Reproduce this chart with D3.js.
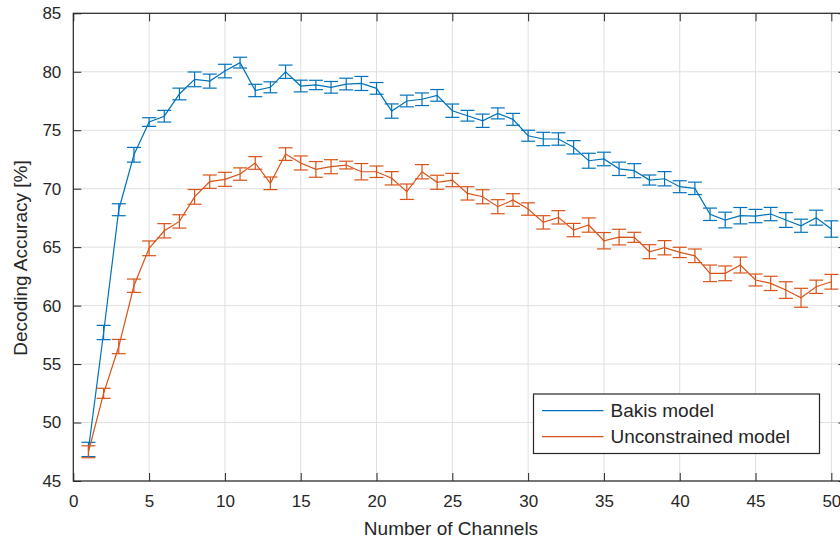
<!DOCTYPE html>
<html>
<head>
<meta charset="utf-8">
<script src="https://cdn.jsdelivr.net/npm/d3@7"></script>
<style>
    body { margin: 0; background: #fff; }
    svg { display: block; font-family: "Liberation Sans", Arial, sans-serif; }
</style>
</head>
<body>
<svg width="840" height="541"></svg>
<script>
var channels = [1, 2, 3, 4, 5, 6, 7, 8, 9, 10, 11, 12, 13, 14, 15, 16, 17, 18, 19, 20,
    21, 22, 23, 24, 25, 26, 27, 28, 29, 30, 31, 32, 33, 34, 35, 36, 37, 38, 39, 40,
    41, 42, 43, 44, 45, 46, 47, 48, 49, 50];

var bakisMean = [47.7, 57.7, 68.2, 72.9, 75.7, 76.2, 78.1, 79.35, 79.2, 80.06,
    80.78, 78.4, 78.67, 80.0, 78.78, 78.87, 78.67, 78.95, 79.0, 78.58,
    76.64, 77.5, 77.65, 77.98, 76.67, 76.24, 75.81, 76.44, 75.93, 74.53,
    74.25, 74.25, 73.54, 72.39, 72.54, 71.7, 71.54, 70.74, 70.85, 70.17,
    70.03, 67.81, 67.32, 67.69, 67.66, 67.83, 67.32, 66.83, 67.52, 66.55];

var bakisErr = [0.61, 0.61, 0.51, 0.63, 0.37, 0.5, 0.5, 0.63, 0.6, 0.58,
    0.46, 0.53, 0.47, 0.57, 0.5, 0.4, 0.5, 0.5, 0.6, 0.5,
    0.61, 0.5, 0.54, 0.5, 0.57, 0.46, 0.57, 0.47, 0.51, 0.47,
    0.57, 0.53, 0.57, 0.64, 0.58, 0.57, 0.6, 0.43, 0.61, 0.51,
    0.53, 0.53, 0.67, 0.7, 0.57, 0.57, 0.63, 0.56, 0.64, 0.7];

var unconstrainedMean = [47.5, 52.5, 56.5, 61.7, 64.9, 66.4, 67.2, 69.3, 70.6, 70.8,
    71.25, 72.2, 70.46, 72.96, 72.2, 71.65, 71.88, 72.02, 71.45, 71.45,
    70.89, 69.74, 71.45, 70.55, 70.74, 69.6, 69.31, 68.46, 69.03, 68.26,
    67.12, 67.55, 66.46, 66.89, 65.55, 65.86, 65.84, 64.61, 64.95, 64.55,
    64.26, 62.76, 62.76, 63.47, 62.19, 61.9, 61.33, 60.67, 61.61, 62.04];

var unconstrainedErr = [0.51, 0.43, 0.61, 0.57, 0.63, 0.61, 0.57, 0.63, 0.57, 0.6,
    0.53, 0.54, 0.54, 0.54, 0.6, 0.67, 0.6, 0.33, 0.7, 0.49,
    0.57, 0.66, 0.61, 0.6, 0.57, 0.57, 0.6, 0.6, 0.54, 0.53,
    0.57, 0.57, 0.57, 0.61, 0.7, 0.67, 0.43, 0.6, 0.61, 0.44,
    0.58, 0.71, 0.63, 0.68, 0.51, 0.61, 0.71, 0.81, 0.57, 0.63];

var xTicks = [0, 5, 10, 15, 20, 25, 30, 35, 40, 45, 50];
var yTicks = [45, 50, 55, 60, 65, 70, 75, 80, 85];

var seriesNames = ["Bakis model", "Unconstrained model"];
var seriesColors = ["#0072bd", "#d95319"];

var axisColor = "#262626";
var gridColor = "#e0e0e0";

// Plot box (MATLAB axes, right edge runs past the cropped figure)
var plotLeft = 73.3, plotRight = 846.5, plotTop = 13.3, plotBottom = 481;

var xScale = d3.scaleLinear().domain([0, 51]).range([plotLeft, plotRight]);
var yScale = d3.scaleLinear().domain([45, 85]).range([plotBottom, plotTop]);

var svg = d3.select("svg");

// Grid
svg.append("g")
    .selectAll("line")
    .data(xTicks)
    .join("line")
    .attr("x1", d => xScale(d))
    .attr("x2", d => xScale(d))
    .attr("y1", plotTop)
    .attr("y2", plotBottom)
    .attr("stroke", gridColor)
    .attr("stroke-width", 1);

svg.append("g")
    .selectAll("line")
    .data(yTicks)
    .join("line")
    .attr("x1", plotLeft)
    .attr("x2", plotRight)
    .attr("y1", d => yScale(d))
    .attr("y2", d => yScale(d))
    .attr("stroke", gridColor)
    .attr("stroke-width", 1);

// Series with error bars
var series = [
    { name: seriesNames[0], color: seriesColors[0], mean: bakisMean, err: bakisErr },
    { name: seriesNames[1], color: seriesColors[1], mean: unconstrainedMean, err: unconstrainedErr },
];

var capHalf = 7;

series.forEach(function (s) {
    var pts = channels.map((c, i) => ({ x: c, y: s.mean[i], e: s.err[i] }));
    var g = svg.append("g")
        .attr("stroke", s.color)
        .attr("stroke-width", 1.2)
        .attr("fill", "none");

    g.append("path")
        .attr("d", d3.line().x(d => xScale(d.x)).y(d => yScale(d.y))(pts));

    var bars = g.selectAll("g.bar")
        .data(pts)
        .join("g")
        .attr("class", "bar");

    bars.append("line")
        .attr("x1", d => xScale(d.x))
        .attr("x2", d => xScale(d.x))
        .attr("y1", d => yScale(d.y - d.e))
        .attr("y2", d => yScale(d.y + d.e));

    bars.append("line")
        .attr("x1", d => xScale(d.x) - capHalf)
        .attr("x2", d => xScale(d.x) + capHalf)
        .attr("y1", d => yScale(d.y + d.e))
        .attr("y2", d => yScale(d.y + d.e));

    bars.append("line")
        .attr("x1", d => xScale(d.x) - capHalf)
        .attr("x2", d => xScale(d.x) + capHalf)
        .attr("y1", d => yScale(d.y - d.e))
        .attr("y2", d => yScale(d.y - d.e));
});

// Axes (box on, ticks inward)
var tickLen = 8;

svg.append("g")
    .attr("transform", "translate(0," + plotBottom + ")")
    .call(d3.axisBottom(xScale).tickValues(xTicks).tickSizeInner(-tickLen).tickSizeOuter(0).tickPadding(14))
    .call(g => g.select(".domain").remove());

svg.append("g")
    .attr("transform", "translate(0," + plotTop + ")")
    .call(d3.axisTop(xScale).tickValues(xTicks).tickSizeInner(-tickLen).tickSizeOuter(0).tickFormat(""))
    .call(g => g.select(".domain").remove());

svg.append("g")
    .attr("transform", "translate(" + plotLeft + ",0)")
    .call(d3.axisLeft(yScale).tickValues(yTicks).tickSizeInner(-tickLen).tickSizeOuter(0).tickPadding(12))
    .call(g => g.select(".domain").remove());

svg.append("g")
    .attr("transform", "translate(" + plotRight + ",0)")
    .call(d3.axisRight(yScale).tickValues(yTicks).tickSizeInner(-tickLen).tickSizeOuter(0).tickFormat(""))
    .call(g => g.select(".domain").remove());

svg.selectAll(".tick line").attr("stroke", axisColor);
svg.selectAll(".tick text")
    .attr("fill", axisColor)
    .style("font-size", "17px")
    .style("font-family", "'Liberation Sans', Arial, sans-serif");

svg.append("rect")
    .attr("x", plotLeft)
    .attr("y", plotTop)
    .attr("width", plotRight - plotLeft)
    .attr("height", plotBottom - plotTop)
    .attr("fill", "none")
    .attr("stroke", axisColor)
    .attr("stroke-width", 1.2);

// Axis labels
svg.append("text")
    .attr("x", 451)
    .attr("y", 535)
    .attr("text-anchor", "middle")
    .attr("fill", axisColor)
    .style("font-size", "19px")
    .text("Number of Channels");

svg.append("text")
    .attr("transform", "translate(26.5,258) rotate(-90)")
    .attr("text-anchor", "middle")
    .attr("fill", axisColor)
    .style("font-size", "19px")
    .text("Decoding Accuracy [%]");

// Legend
var legend = svg.append("g");

legend.append("rect")
    .attr("x", 533.5)
    .attr("y", 394)
    .attr("width", 286)
    .attr("height", 59.5)
    .attr("fill", "#fff")
    .attr("stroke", axisColor)
    .attr("stroke-width", 1.2);

var legendRows = legend.selectAll("g.row")
    .data(series)
    .join("g")
    .attr("class", "row")
    .attr("transform", (d, i) => "translate(0," + (410.7 + i * 26) + ")");

legendRows.append("line")
    .attr("x1", 542)
    .attr("x2", 603.5)
    .attr("stroke", d => d.color)
    .attr("stroke-width", 1.2);

legendRows.append("text")
    .attr("x", 610.5)
    .attr("dy", "0.35em")
    .attr("fill", axisColor)
    .style("font-size", "19px")
    .text(d => d.name);
</script>
</body>
</html>
